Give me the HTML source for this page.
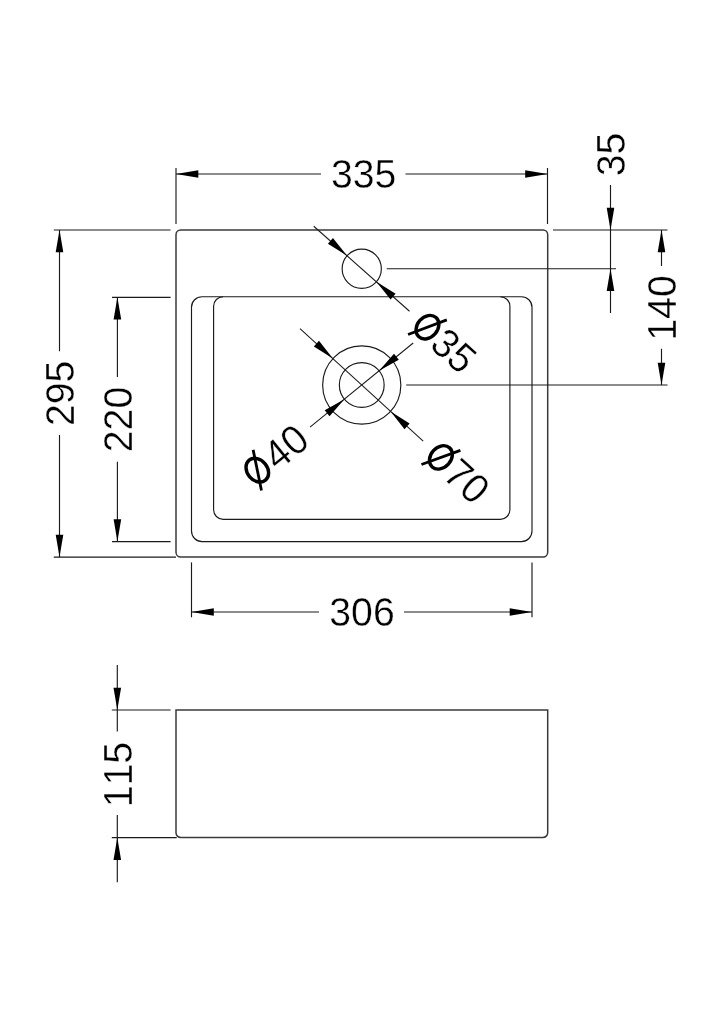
<!DOCTYPE html>
<html><head><meta charset="utf-8"><title>Basin dimensions</title>
<style>
html,body{margin:0;padding:0;background:#fff;}
body{width:724px;height:1024px;overflow:hidden;}
svg{display:block;filter:grayscale(1);}
text{font-family:"Liberation Sans",sans-serif;fill:#000;font-kerning:none;stroke:#fff;stroke-width:0.4px;}
</style></head><body>
<svg width="724" height="1024" viewBox="0 0 724 1024">
<rect x="0" y="0" width="724" height="1024" fill="#fff"/>
<rect x="176.00" y="230.00" width="371.70" height="327.00" rx="4.7" ry="4.7" fill="none" stroke="#3a3a3a" stroke-width="1.5"/>
<rect x="191.50" y="296.70" width="340.50" height="244.90" rx="10.5" ry="10.5" fill="none" stroke="#1a1a1a" stroke-width="1.15"/>
<path d="M223.1,296.7 A9.5,9.5 0 0 0 213.6,306.2 V509.8 A9.5,9.5 0 0 0 223.1,519.3 H500.4 A9.5,9.5 0 0 0 509.9,509.8 V306.2 A9.5,9.5 0 0 0 500.4,296.7" fill="none" stroke="#1a1a1a" stroke-width="1.15"/>
<circle cx="361.75" cy="268.75" r="19.60" fill="none" stroke="#1a1a1a" stroke-width="1.15"/>
<circle cx="361.75" cy="385.00" r="39.10" fill="none" stroke="#1a1a1a" stroke-width="1.15"/>
<circle cx="361.75" cy="385.00" r="22.40" fill="none" stroke="#1a1a1a" stroke-width="1.15"/>
<line x1="176.00" y1="168.00" x2="176.00" y2="224.00" stroke="#1a1a1a" stroke-width="1.15"/>
<line x1="547.50" y1="168.00" x2="547.50" y2="224.00" stroke="#1a1a1a" stroke-width="1.15"/>
<line x1="176.00" y1="174.00" x2="321.00" y2="174.00" stroke="#1a1a1a" stroke-width="1.15"/>
<line x1="405.50" y1="174.00" x2="547.50" y2="174.00" stroke="#1a1a1a" stroke-width="1.15"/>
<polygon points="176.00,174.00 198.30,170.20 198.30,177.80" fill="#000"/>
<polygon points="547.50,174.00 525.20,177.80 525.20,170.20" fill="#000"/>
<text x="0.00" y="13.47" font-size="39.2" text-anchor="middle" transform="translate(363.70,174.00) rotate(0.00) scale(1,1.047)">335</text>
<line x1="53.75" y1="230.00" x2="170.50" y2="230.00" stroke="#1a1a1a" stroke-width="1.15"/>
<line x1="53.75" y1="557.10" x2="176.00" y2="557.10" stroke="#1a1a1a" stroke-width="1.15"/>
<line x1="59.50" y1="230.00" x2="59.50" y2="351.25" stroke="#1a1a1a" stroke-width="1.15"/>
<line x1="59.50" y1="435.00" x2="59.50" y2="557.00" stroke="#1a1a1a" stroke-width="1.15"/>
<polygon points="59.50,230.00 63.30,252.30 55.70,252.30" fill="#000"/>
<polygon points="59.50,557.00 55.70,534.70 63.30,534.70" fill="#000"/>
<text x="0.00" y="13.47" font-size="39.2" text-anchor="middle" transform="translate(59.75,393.40) rotate(-90.00) scale(1,1.047)">295</text>
<line x1="112.00" y1="297.30" x2="170.60" y2="297.30" stroke="#1a1a1a" stroke-width="1.15"/>
<line x1="112.00" y1="541.60" x2="170.60" y2="541.60" stroke="#1a1a1a" stroke-width="1.15"/>
<line x1="117.40" y1="297.30" x2="117.40" y2="377.00" stroke="#1a1a1a" stroke-width="1.15"/>
<line x1="117.40" y1="461.75" x2="117.40" y2="541.60" stroke="#1a1a1a" stroke-width="1.15"/>
<polygon points="117.40,297.30 121.20,319.60 113.60,319.60" fill="#000"/>
<polygon points="117.40,541.60 113.60,519.30 121.20,519.30" fill="#000"/>
<text x="0.00" y="13.47" font-size="39.2" text-anchor="middle" transform="translate(117.90,419.50) rotate(-90.00) scale(1,1.047)">220</text>
<line x1="191.50" y1="562.40" x2="191.50" y2="617.30" stroke="#1a1a1a" stroke-width="1.15"/>
<line x1="532.00" y1="562.40" x2="532.00" y2="617.30" stroke="#1a1a1a" stroke-width="1.15"/>
<line x1="191.50" y1="612.00" x2="319.00" y2="612.00" stroke="#1a1a1a" stroke-width="1.15"/>
<line x1="404.00" y1="612.00" x2="532.00" y2="612.00" stroke="#1a1a1a" stroke-width="1.15"/>
<polygon points="191.50,612.00 213.80,608.20 213.80,615.80" fill="#000"/>
<polygon points="532.00,612.00 509.70,615.80 509.70,608.20" fill="#000"/>
<text x="0.00" y="13.47" font-size="39.2" text-anchor="middle" transform="translate(362.00,612.00) rotate(0.00) scale(1,1.047)">306</text>
<line x1="553.00" y1="230.00" x2="667.50" y2="230.00" stroke="#1a1a1a" stroke-width="1.15"/>
<line x1="610.50" y1="185.00" x2="610.50" y2="313.00" stroke="#1a1a1a" stroke-width="1.15"/>
<polygon points="610.50,230.00 606.70,207.70 614.30,207.70" fill="#000"/>
<polygon points="610.50,268.75 614.30,291.05 606.70,291.05" fill="#000"/>
<line x1="386.75" y1="268.75" x2="616.00" y2="268.75" stroke="#1a1a1a" stroke-width="1.15"/>
<text x="0.00" y="13.47" font-size="39.2" text-anchor="middle" transform="translate(610.50,154.50) rotate(-90.00) scale(1,1.047)">35</text>
<line x1="661.50" y1="230.00" x2="661.50" y2="266.00" stroke="#1a1a1a" stroke-width="1.15"/>
<line x1="661.50" y1="348.75" x2="661.50" y2="385.00" stroke="#1a1a1a" stroke-width="1.15"/>
<polygon points="661.50,230.00 665.30,252.30 657.70,252.30" fill="#000"/>
<polygon points="661.50,385.00 657.70,362.70 665.30,362.70" fill="#000"/>
<line x1="406.20" y1="385.00" x2="667.50" y2="385.00" stroke="#1a1a1a" stroke-width="1.15"/>
<text x="0.00" y="13.47" font-size="39.2" text-anchor="middle" transform="translate(661.60,308.00) rotate(-90.00) scale(1,1.047)">140</text>
<line x1="313.75" y1="226.25" x2="409.50" y2="311.25" stroke="#1a1a1a" stroke-width="1.05"/>
<polygon points="347.09,255.74 327.89,243.78 332.94,238.09" fill="#000"/>
<polygon points="376.41,281.76 395.61,293.72 390.56,299.41" fill="#000"/>
<line x1="300.00" y1="328.60" x2="423.20" y2="441.20" stroke="#1a1a1a" stroke-width="1.05"/>
<polygon points="332.89,358.62 313.86,346.38 318.99,340.77" fill="#000"/>
<polygon points="390.61,411.38 409.64,423.62 404.51,429.23" fill="#000"/>
<line x1="310.00" y1="427.20" x2="413.20" y2="343.00" stroke="#1a1a1a" stroke-width="1.05"/>
<polygon points="344.39,399.16 329.52,416.20 324.71,410.31" fill="#000"/>
<polygon points="379.11,370.84 393.98,353.80 398.79,359.69" fill="#000"/>
<g transform="translate(409.50,311.25) rotate(41.60) translate(24.00,0)"><ellipse cx="0" cy="0" rx="10.1" ry="12.9" fill="none" stroke="#000" stroke-width="3.4"/><line x1="-9.6" y1="18.35" x2="9.6" y2="-18.35" stroke="#000" stroke-width="2.8"/></g>
<text x="37.50" y="13.47" font-size="39.2" text-anchor="start" transform="translate(409.50,311.25) rotate(41.60) scale(1,1.047)">35</text>
<g transform="translate(423.20,441.20) rotate(42.43) translate(24.00,0)"><ellipse cx="0" cy="0" rx="10.1" ry="12.9" fill="none" stroke="#000" stroke-width="3.4"/><line x1="-9.6" y1="18.35" x2="9.6" y2="-18.35" stroke="#000" stroke-width="2.8"/></g>
<text x="37.50" y="13.47" font-size="39.2" text-anchor="start" transform="translate(423.20,441.20) rotate(42.43) scale(1,1.047)">70</text>
<g transform="translate(310.00,427.20) rotate(-39.21) translate(-68.00,0)"><ellipse cx="0" cy="0" rx="10.1" ry="12.9" fill="none" stroke="#000" stroke-width="3.4"/><line x1="-9.6" y1="18.35" x2="9.6" y2="-18.35" stroke="#000" stroke-width="2.8"/></g>
<text x="-9.40" y="13.47" font-size="39.2" text-anchor="end" transform="translate(310.00,427.20) rotate(-39.21) scale(1,1.047)">40</text>
<path d="M176,710 H547.7 V832.8 A4.7,4.7 0 0 1 543,837.5 H180.7 A4.7,4.7 0 0 1 176,832.8 Z" fill="none" stroke="#3a3a3a" stroke-width="1.5"/>
<line x1="117.30" y1="665.00" x2="117.30" y2="731.60" stroke="#1a1a1a" stroke-width="1.15"/>
<line x1="117.30" y1="815.00" x2="117.30" y2="882.30" stroke="#1a1a1a" stroke-width="1.15"/>
<polygon points="117.30,710.00 113.50,687.70 121.10,687.70" fill="#000"/>
<polygon points="117.30,837.60 121.10,859.90 113.50,859.90" fill="#000"/>
<line x1="111.80" y1="710.00" x2="170.60" y2="710.00" stroke="#1a1a1a" stroke-width="1.15"/>
<line x1="111.80" y1="837.60" x2="176.70" y2="837.60" stroke="#1a1a1a" stroke-width="1.15"/>
<text x="0.00" y="13.47" font-size="39.2" text-anchor="middle" transform="translate(118.00,774.60) rotate(-90.00) scale(1,1.047)">115</text>
</svg>
</body></html>
